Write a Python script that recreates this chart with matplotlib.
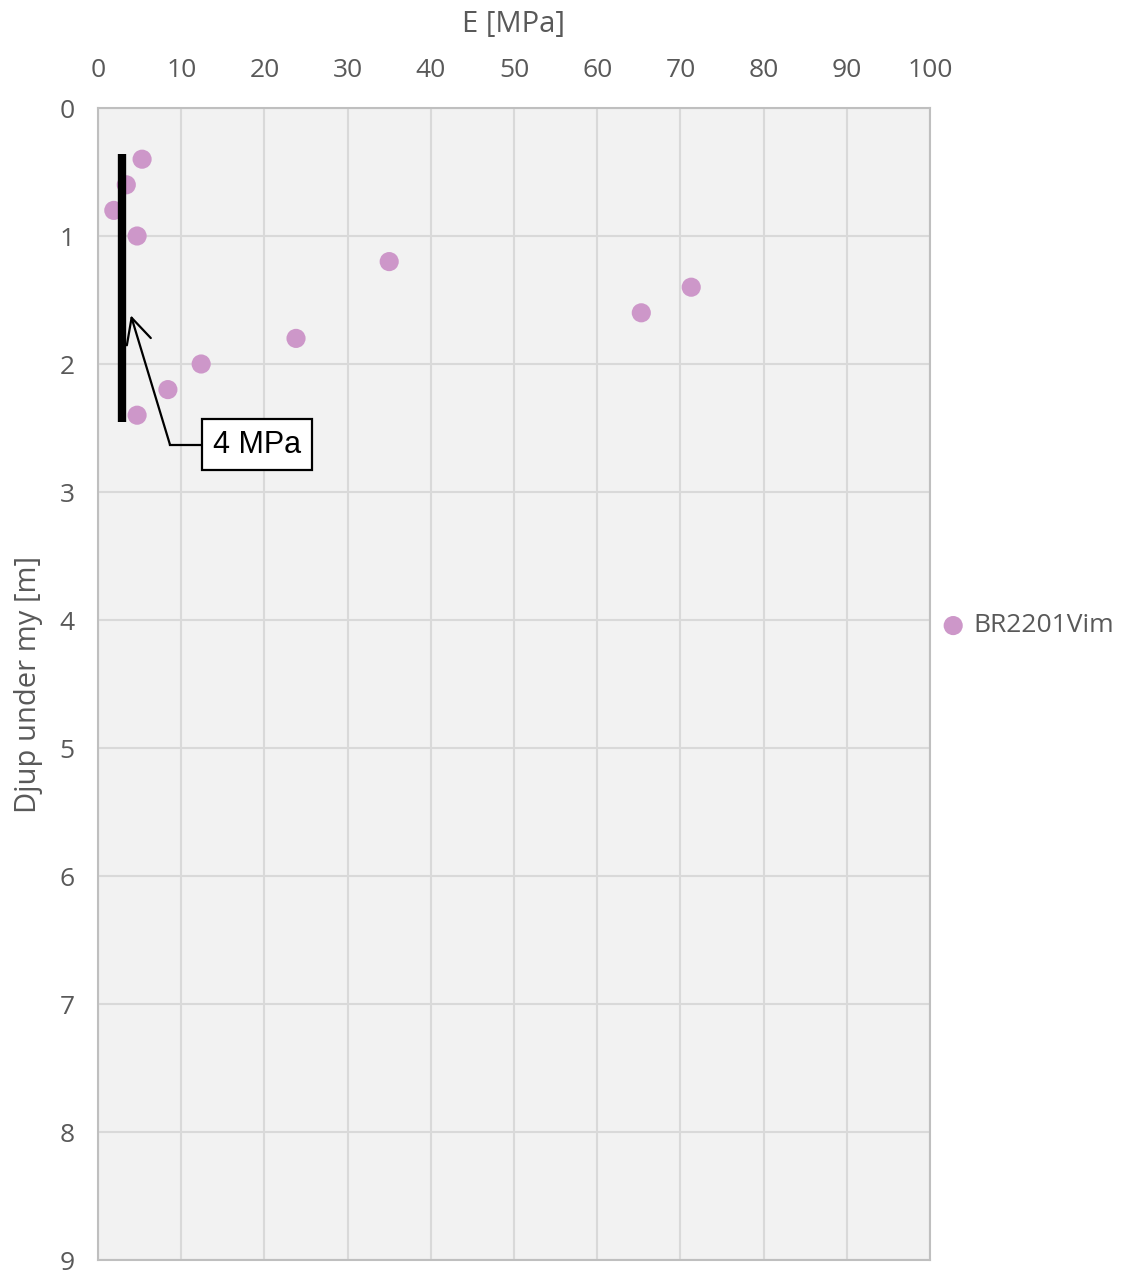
import matplotlib
matplotlib.use("Agg")
import matplotlib.pyplot as plt

# Data
E_mpa = [5.3, 3.4, 1.9, 4.7, 35.0, 71.3, 65.3, 23.8, 12.4, 8.4, 4.7]
depth_m = [0.4, 0.6, 0.8, 1.0, 1.2, 1.4, 1.6, 1.8, 2.0, 2.2, 2.4]
series_name = "BR2201Vim"
x_ticks = [0, 10, 20, 30, 40, 50, 60, 70, 80, 90, 100]
y_ticks = [0, 1, 2, 3, 4, 5, 6, 7, 8, 9]
line_E = [2.85, 2.85]
line_depth = [0.36, 2.45]
annot_text = "4 MPa"
annot_tip = (3.95, 1.62)
annot_corner = (8.65, 2.63)
annot_box_left = (12.5, 2.63)

plt.rcParams['font.family'] = ['Open Sans', 'DejaVu Sans']
fig = plt.figure(figsize=(11.22, 12.70), dpi=100)
ax = fig.add_axes([98/1122, 1-1260/1270, (930-98)/1122, (1260-108)/1270])
ax.set_facecolor('#F2F2F2')
ax.set_xlim(0, 100)
ax.set_ylim(9, 0)
ax.set_xticks(x_ticks)
ax.set_yticks(y_ticks)
ax.xaxis.tick_top()
ax.xaxis.set_label_position('top')
ax.tick_params(axis='both', length=0, labelsize=19, labelcolor='#595959')
ax.tick_params(axis='x', pad=18)
ax.tick_params(axis='y', pad=17)
ax.grid(True, color='#D9D9D9', linewidth=1.5)
ax.set_axisbelow(True)
for s in ax.spines.values():
    s.set_color('#BFBFBF')
    s.set_linewidth(1.5)
ax.set_xlabel('E [MPa]', fontsize=21, color='#595959', labelpad=19)
ax.set_ylabel('Djup under my [m]', fontsize=21, color='#595959', labelpad=12)

sc = ax.scatter(E_mpa, depth_m, s=190, color='#CD97C9', edgecolors='none', zorder=3, label=series_name, clip_on=False)
ax.plot(line_E, line_depth, color='black', linewidth=6, solid_capstyle='butt', zorder=4)

ax.plot([annot_box_left[0], annot_corner[0]], [annot_box_left[1], annot_corner[1]], color='black', lw=1.6, zorder=5)
ax.annotate('', xy=annot_tip, xytext=annot_corner,
            arrowprops=dict(arrowstyle='->,head_length=0.9,head_width=0.45', color='black', lw=1.6,
                            shrinkA=0, shrinkB=0, mutation_scale=20), zorder=5)
ax.text(annot_box_left[0] + 1.3, annot_box_left[1], annot_text, fontsize=22,
        family=['Liberation Sans', 'DejaVu Sans'],
        ha='left', va='center', zorder=6,
        bbox=dict(boxstyle='square,pad=0.35', facecolor='white', edgecolor='black', linewidth=1.6))

leg = fig.legend(handles=[sc], labels=[series_name], loc='center left', bbox_to_anchor=(940/1122, 1-626/1270),
                 frameon=False, fontsize=19, handlelength=1.0, handletextpad=0.25, markerscale=1.0, borderaxespad=0,
                 borderpad=0)
for t in leg.get_texts():
    t.set_color('#595959')

fig.savefig('out.png', dpi=100)
